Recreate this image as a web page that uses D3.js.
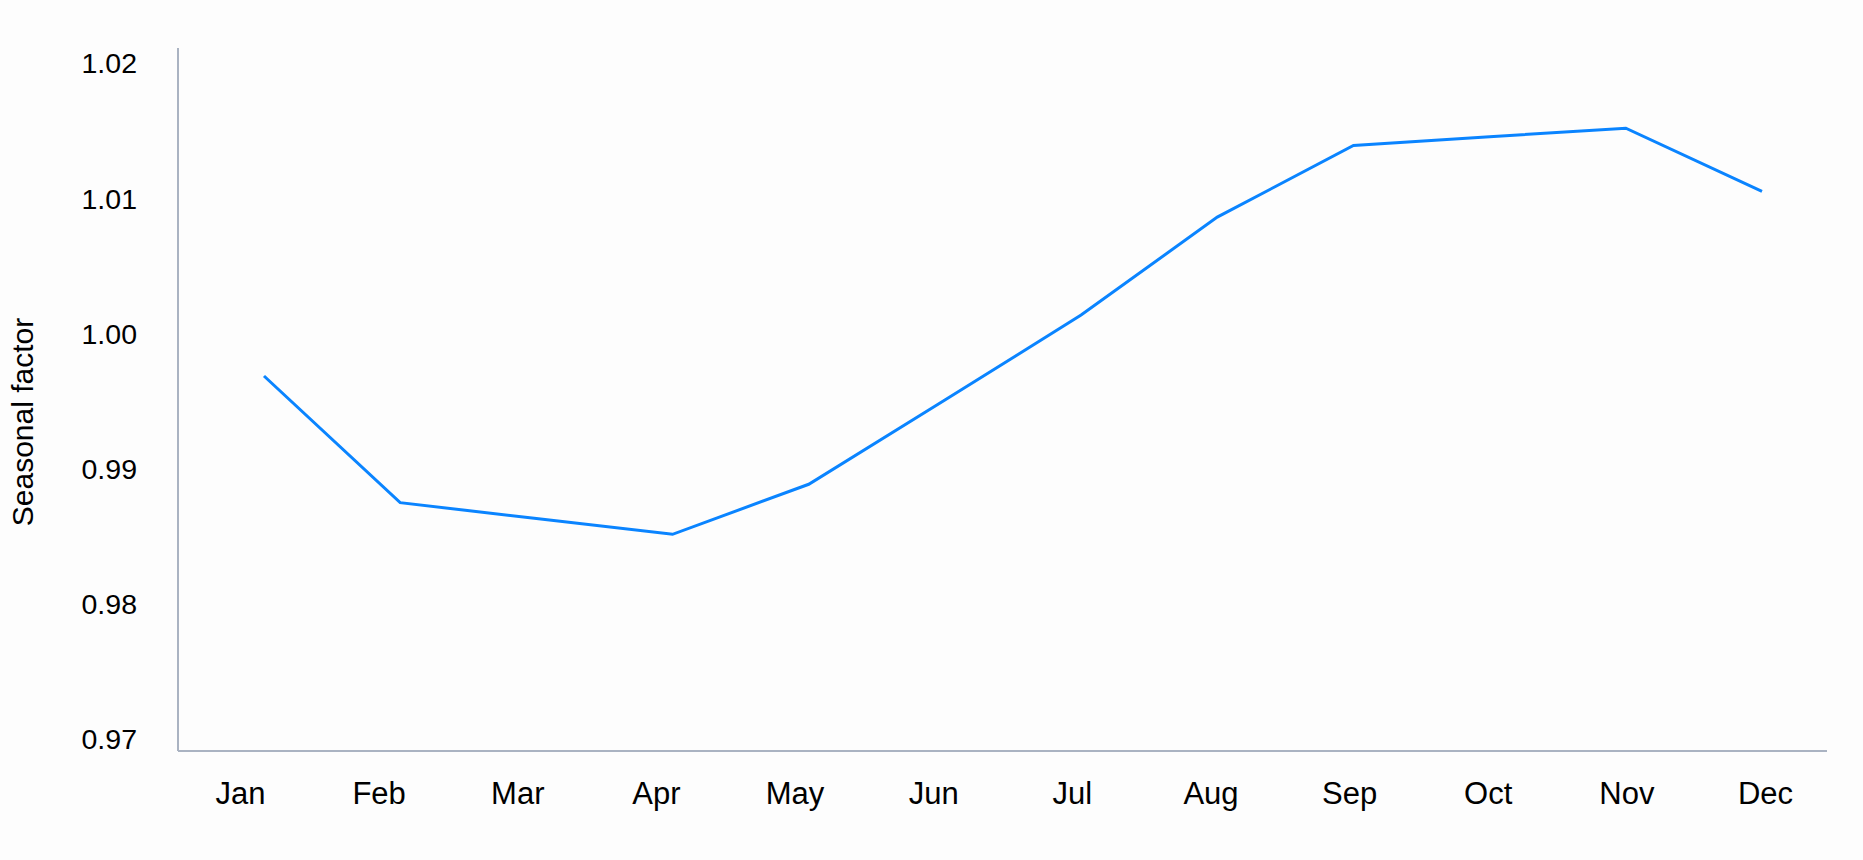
<!DOCTYPE html>
<html>
<head>
<meta charset="utf-8">
<script src="https://cdn.jsdelivr.net/npm/d3@7"></script>
<style>
  html, body { margin: 0; padding: 0; background: #fdfdfd; }
  svg text { font-family: "Liberation Sans", Arial, sans-serif; fill: #000; }
</style>
</head>
<body>
<svg id="chart" width="1863" height="860"></svg>
<script>
const months = ["Jan","Feb","Mar","Apr","May","Jun","Jul","Aug","Sep","Oct","Nov","Dec"];
const seasonalFactor = [0.99685, 0.98748, 0.98631, 0.98514, 0.98884, 0.99507, 1.00136, 1.00860, 1.01390, 1.01455, 1.01518, 1.01050];
const yTicks = [0.97, 0.98, 0.99, 1.00, 1.01, 1.02];
const yTitle = "Seasonal factor";

const svg = d3.select("#chart");
const axisLeftX = 178, axisRightX = 1827, axisTopY = 48, axisBottomY = 751;

const y = d3.scaleLinear().domain([0.969112, 1.02111]).range([axisBottomY, axisTopY]);
const xPts = d3.scalePoint().domain(months).range([264, 1762]);
const xLab = d3.scalePoint().domain(months).range([240, 1765]);

// axes lines
svg.append("line").attr("x1", axisLeftX).attr("x2", axisLeftX).attr("y1", axisTopY).attr("y2", axisBottomY)
  .attr("stroke", "#aab3c2").attr("stroke-width", 2);
svg.append("line").attr("x1", axisLeftX).attr("x2", axisRightX).attr("y1", axisBottomY).attr("y2", axisBottomY)
  .attr("stroke", "#aab3c2").attr("stroke-width", 2);

// y tick labels
const yAxis = d3.axisLeft(y).tickValues(yTicks).tickFormat(d3.format(".2f")).tickSize(0).tickPadding(0);
const gy = svg.append("g").attr("transform", `translate(137,0)`).call(yAxis);
gy.select(".domain").remove();
gy.selectAll("text").style("font-size", "28.5px").attr("fill", "#000")
  .style("font-family", "'Liberation Sans', Arial, sans-serif").attr("dy", "0.35em");

// x tick labels
const xAxis = d3.axisBottom(xLab).tickSize(0).tickPadding(0);
const gx = svg.append("g").attr("transform", `translate(0,793)`).call(xAxis);
gx.select(".domain").remove();
gx.selectAll("text").style("font-size", "31px").attr("fill", "#000")
  .style("font-family", "'Liberation Sans', Arial, sans-serif").attr("dy", "0.35em");

// y title
svg.append("text").attr("transform", "translate(22,422) rotate(-90)")
  .attr("text-anchor", "middle").attr("dy", "0.35em")
  .style("font-size", "30px").text(yTitle);

// line
const line = d3.line().x((d, i) => xPts(months[i])).y(d => y(d));
svg.append("path").datum(seasonalFactor).attr("d", line)
  .attr("fill", "none").attr("stroke", "#0a84ff").attr("stroke-width", 3)
  .attr("stroke-linejoin", "miter");
</script>
</body>
</html>
